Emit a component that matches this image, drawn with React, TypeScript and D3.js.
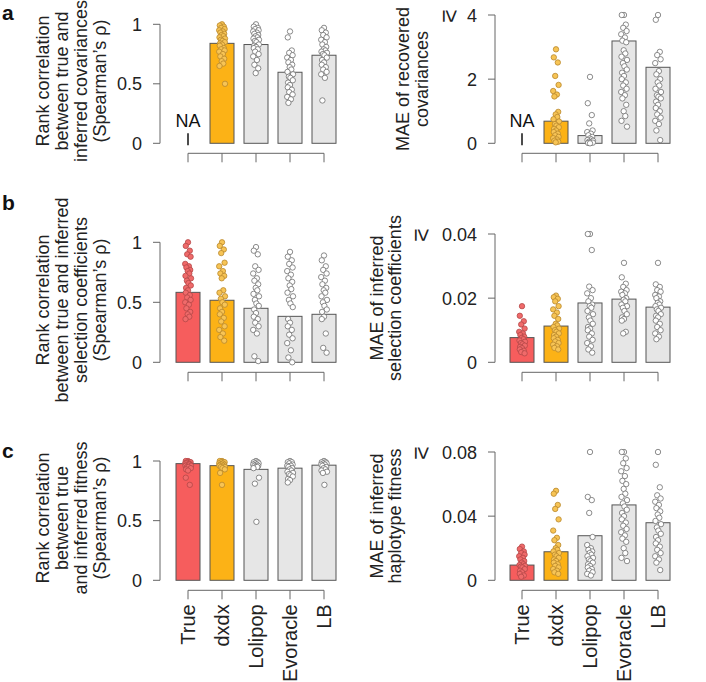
import React from 'react';
import * as d3 from 'd3';

// methods on the x axis
const methods = ['True', 'dxdx', 'Lolipop', 'Evoracle', 'LB'];

// a: covariances
const covRhoMean = [null, 0.84, 0.83, 0.597, 0.74];
const covRhoPts = [
  [],
  [1.0, 0.99, 0.98, 0.97, 0.96, 0.95, 0.94, 0.93, 0.92, 0.91, 0.9, 0.89, 0.88, 0.87, 0.86, 0.85, 0.84, 0.83, 0.82, 0.8, 0.79, 0.78, 0.77, 0.75, 0.73, 0.71, 0.69, 0.67, 0.65, 0.5],
  [1.0, 0.98, 0.97, 0.96, 0.95, 0.94, 0.93, 0.92, 0.91, 0.9, 0.89, 0.88, 0.87, 0.86, 0.85, 0.83, 0.82, 0.81, 0.8, 0.79, 0.77, 0.75, 0.73, 0.7, 0.66, 0.63, 0.59],
  [0.94, 0.89, 0.78, 0.76, 0.74, 0.72, 0.7, 0.68, 0.66, 0.64, 0.62, 0.6, 0.58, 0.56, 0.55, 0.53, 0.51, 0.49, 0.47, 0.45, 0.43, 0.41, 0.39, 0.37, 0.34],
  [0.97, 0.95, 0.93, 0.91, 0.89, 0.87, 0.85, 0.83, 0.81, 0.79, 0.78, 0.77, 0.76, 0.75, 0.74, 0.72, 0.7, 0.68, 0.66, 0.64, 0.62, 0.6, 0.58, 0.55, 0.36],
];
const covMaeMean = [null, 0.69, 0.24, 3.19, 2.37];
const covMaePts = [
  [],
  [2.93, 2.68, 2.52, 2.1, 1.82, 1.63, 1.52, 1.46, 0.98, 0.9, 0.82, 0.75, 0.68, 0.6, 0.55, 0.5, 0.45, 0.4, 0.35, 0.3, 0.25, 0.2, 0.16, 0.12, 0.08, 0.05, 0.03],
  [2.07, 1.25, 0.88, 0.62, 0.4, 0.35, 0.3, 0.25, 0.2, 0.15, 0.12, 0.1, 0.08, 0.05, 0.03, 0.02, 0.01, 0.0],
  [4.0, 4.0, 3.7, 3.6, 3.5, 3.4, 3.3, 3.2, 3.15, 2.9, 2.8, 2.7, 2.6, 2.5, 2.4, 2.3, 2.2, 2.1, 2.0, 1.9, 1.8, 1.7, 1.6, 1.5, 1.4, 1.2, 1.0, 0.85, 0.7, 0.52],
  [4.0, 3.85, 2.85, 2.75, 2.62, 2.5, 2.25, 2.15, 2.0, 1.9, 1.8, 1.7, 1.6, 1.5, 1.45, 1.4, 1.3, 1.2, 1.1, 1.0, 0.9, 0.8, 0.7, 0.6, 0.4, 0.1],
];

// b: selection coefficients
const selRhoMean = [0.583, 0.517, 0.45, 0.383, 0.4];
const selRhoPts = [
  [1.0, 0.97, 0.93, 0.9, 0.88, 0.82, 0.8, 0.79, 0.77, 0.76, 0.74, 0.72, 0.7, 0.68, 0.66, 0.64, 0.62, 0.6, 0.58, 0.56, 0.54, 0.52, 0.5, 0.48, 0.45, 0.42, 0.4, 0.38, 0.36],
  [1.0, 0.97, 0.94, 0.91, 0.83, 0.8, 0.76, 0.74, 0.72, 0.7, 0.6, 0.58, 0.55, 0.53, 0.5, 0.48, 0.45, 0.42, 0.4, 0.37, 0.34, 0.3, 0.27, 0.24, 0.21, 0.18],
  [0.96, 0.93, 0.9, 0.8, 0.77, 0.74, 0.7, 0.68, 0.65, 0.62, 0.6, 0.57, 0.55, 0.52, 0.49, 0.47, 0.44, 0.41, 0.38, 0.36, 0.33, 0.3, 0.27, 0.24, 0.05, 0.01],
  [0.92, 0.88, 0.85, 0.82, 0.79, 0.76, 0.73, 0.7, 0.67, 0.64, 0.61, 0.58, 0.55, 0.52, 0.49, 0.46, 0.36, 0.33, 0.3, 0.27, 0.23, 0.2, 0.16, 0.1, 0.04, 0.0],
  [0.89, 0.85, 0.8, 0.77, 0.74, 0.71, 0.68, 0.65, 0.62, 0.6, 0.58, 0.55, 0.52, 0.5, 0.47, 0.44, 0.42, 0.38, 0.36, 0.24, 0.12, 0.08],
];
const selMaeMean = [0.0077, 0.0113, 0.0185, 0.0197, 0.0172];
const selMaePts = [
  [0.0175, 0.0145, 0.0128, 0.0118, 0.0105, 0.0095, 0.009, 0.0085, 0.008, 0.0076, 0.0072, 0.0068, 0.0064, 0.006, 0.0056, 0.0052, 0.0048, 0.0044, 0.004, 0.0036, 0.0032, 0.0028],
  [0.0208, 0.0203, 0.0198, 0.019, 0.0175, 0.0165, 0.0155, 0.0145, 0.0135, 0.012, 0.0115, 0.011, 0.0105, 0.01, 0.0095, 0.009, 0.0085, 0.008, 0.0075, 0.007, 0.0065, 0.006, 0.0055, 0.005, 0.0045, 0.004],
  [0.04, 0.04, 0.035, 0.0236, 0.0225, 0.0215, 0.02, 0.019, 0.018, 0.0175, 0.017, 0.016, 0.015, 0.014, 0.013, 0.012, 0.011, 0.0105, 0.01, 0.009, 0.008, 0.007, 0.006, 0.005, 0.004, 0.003],
  [0.031, 0.0265, 0.0245, 0.0235, 0.0225, 0.022, 0.0215, 0.021, 0.02, 0.0195, 0.019, 0.018, 0.0175, 0.017, 0.016, 0.015, 0.014, 0.0135, 0.013, 0.0095, 0.009],
  [0.031, 0.0243, 0.0235, 0.0225, 0.022, 0.021, 0.0205, 0.02, 0.019, 0.0185, 0.018, 0.0175, 0.017, 0.0165, 0.016, 0.015, 0.0145, 0.014, 0.013, 0.012, 0.011, 0.01, 0.009, 0.008, 0.0072],
];

// c: haplotype fitness
const fitRhoMean = [0.978, 0.961, 0.93, 0.94, 0.965];
const fitRhoPts = [
  [1.0, 1.0, 0.99, 0.99, 0.99, 0.98, 0.98, 0.98, 0.97, 0.97, 0.97, 0.96, 0.96, 0.95, 0.95, 0.94, 0.93, 0.92, 0.86, 0.8],
  [1.0, 1.0, 0.99, 0.99, 0.99, 0.98, 0.98, 0.97, 0.97, 0.97, 0.96, 0.96, 0.95, 0.95, 0.94, 0.93, 0.9, 0.8],
  [1.0, 0.99, 0.99, 0.98, 0.98, 0.97, 0.97, 0.96, 0.96, 0.95, 0.95, 0.94, 0.86, 0.81, 0.49],
  [1.0, 0.99, 0.99, 0.98, 0.97, 0.96, 0.96, 0.95, 0.94, 0.93, 0.92, 0.91, 0.9, 0.89, 0.88, 0.87, 0.85, 0.84, 0.82],
  [1.0, 0.99, 0.99, 0.98, 0.98, 0.97, 0.97, 0.96, 0.95, 0.94, 0.93, 0.92, 0.91, 0.9, 0.8],
];
const fitMaeMean = [0.0095, 0.0178, 0.0278, 0.047, 0.0359];
const fitMaePts = [
  [0.021, 0.0195, 0.018, 0.017, 0.016, 0.015, 0.014, 0.013, 0.012, 0.011, 0.01, 0.0095, 0.009, 0.0085, 0.008, 0.007, 0.006, 0.005, 0.004, 0.003, 0.0022],
  [0.0558, 0.054, 0.047, 0.0445, 0.038, 0.031, 0.0265, 0.025, 0.022, 0.02, 0.019, 0.018, 0.017, 0.016, 0.015, 0.014, 0.013, 0.012, 0.011, 0.01, 0.009, 0.008, 0.007, 0.006, 0.005, 0.004],
  [0.08, 0.052, 0.05, 0.042, 0.027, 0.022, 0.02, 0.019, 0.018, 0.017, 0.016, 0.015, 0.014, 0.013, 0.012, 0.011, 0.01, 0.009, 0.008, 0.007, 0.006, 0.005, 0.004, 0.003],
  [0.08, 0.08, 0.076, 0.073, 0.07, 0.068, 0.065, 0.062, 0.06, 0.057, 0.054, 0.052, 0.05, 0.048, 0.046, 0.044, 0.042, 0.04, 0.038, 0.036, 0.034, 0.032, 0.03, 0.028, 0.026, 0.024, 0.02, 0.017, 0.014, 0.012],
  [0.08, 0.072, 0.058, 0.053, 0.051, 0.049, 0.047, 0.045, 0.043, 0.041, 0.039, 0.037, 0.035, 0.033, 0.031, 0.029, 0.027, 0.025, 0.023, 0.021, 0.019, 0.017, 0.015, 0.013, 0.011, 0.0064],
];

const barFill = ['#f65d5d', '#fcb216', '#e6e6e6', '#e6e6e6', '#e6e6e6'];
const dotFill = ['#f06a6a', '#f7c455', '#ffffff', '#ffffff', '#ffffff'];
const dotStroke = ['#b44848', '#b9882c', '#6e6e6e', '#6e6e6e', '#6e6e6e'];
const axisColor = '#666';
const textColor = '#222';
const font = '"Liberation Sans", Arial, sans-serif';
// fixed horizontal spread for the dots
const jitter = [0, -2.2, 1.8, -0.8, 2.6, -2.8, 0.9, -1.6, 2.2, -0.3, 1.3, -2.5, 3, -1.1, 0.4, 2.8, -1.9];

function Panel({ x0, x1, top, bottom, axisX, max, ticks, tickLabels, geq, means, pts, label, labelX, labelY, showNames }) {
  const x = d3.scalePoint().domain(methods).range([x0, x1]);
  const y = d3.scaleLinear().domain([0, max]).range([bottom, top]);
  const bw = 24;
  const baseY = bottom + 10;
  return (
    <g>
      {/* y label */}
      <g transform={`translate(${labelX[0]} ${labelY}) rotate(-90)`}>
        {label.map((l, i) => (
          <text key={i} x={0} y={(labelX[1] - labelX[0]) * i} textAnchor="middle" fontSize={18} fill={textColor}>{l}</text>
        ))}
      </g>
      {/* y axis */}
      <line x1={axisX} x2={axisX} y1={y(max)} y2={y(0)} stroke={axisColor} strokeWidth={1} />
      {ticks.map((t, i) => (
        <g key={i}>
          <line x1={axisX - 7} x2={axisX} y1={y(t)} y2={y(t)} stroke={axisColor} strokeWidth={1} />
          <text x={axisX - 18} y={y(t) + 6.5} textAnchor="end" fontSize={18} fill={textColor}>{tickLabels[i]}</text>
        </g>
      ))}
      {geq && (
        <text transform={`translate(${geq} ${y(max) + 1}) rotate(90)`} textAnchor="middle" fontSize={23} fill={textColor} dominantBaseline="central">≥</text>
      )}
      {/* bars */}
      {methods.map((m, i) => means[i] == null ? (
        <g key={m}>
          <text x={x(m)} y={y(0) - 16} textAnchor="middle" fontSize={18} fill="#111">NA</text>
          <line x1={x(m)} x2={x(m)} y1={y(0) - 10} y2={y(0) + 2} stroke="#111" strokeWidth={1.5} />
        </g>
      ) : (
        <rect key={m} x={x(m) - bw / 2} y={y(means[i])} width={bw} height={y(0) - y(means[i])}
          fill={barFill[i]} stroke="#555" strokeWidth={1} />
      ))}
      {/* dots */}
      {methods.map((m, i) => pts[i].map((v, j) => (
        <circle key={m + j} cx={x(m) + jitter[j % jitter.length]} cy={y(v)} r={2.7}
          fill={dotFill[i]} stroke={dotStroke[i]} strokeWidth={0.8} />
      )))}
      {/* x axis */}
      <line x1={x0} x2={x1} y1={baseY} y2={baseY} stroke={axisColor} strokeWidth={1} />
      {methods.map(m => (
        <line key={m} x1={x(m)} x2={x(m)} y1={baseY} y2={baseY + 9} stroke={axisColor} strokeWidth={1} />
      ))}
      {showNames && methods.map(m => (
        <text key={m} transform={`translate(${x(m) + 7} ${baseY + 14}) rotate(-90)`} textAnchor="end" fontSize={20} fill={textColor}>{m}</text>
      ))}
    </g>
  );
}

export default function App() {
  const L = { x0: 188, x1: 324, axisX: 160, max: 1, ticks: [0, 0.5, 1], tickLabels: ['0', '0.5', '1'], labelX: [49, 68] };
  return (
    <svg width={706} height={682} style={{ display: 'block', position: 'absolute', left: 0, top: 0, background: '#fff' }} fontFamily={font}>
      <text x={2} y={20} fontSize={21} fontWeight="bold" fill="#111">a</text>
      <text x={2} y={210} fontSize={21} fontWeight="bold" fill="#111">b</text>
      <text x={2} y={458} fontSize={21} fontWeight="bold" fill="#111">c</text>

      <Panel {...L} top={24.3} bottom={143.3} means={covRhoMean} pts={covRhoPts} labelY={81}
        label={['Rank correlation', 'between true and', 'inferred covariances', '(Spearman\u2019s \u03c1)']} />
      <Panel x0={522} x1={658} axisX={495} top={15} bottom={143.3} max={4} ticks={[0, 2, 4]} tickLabels={['0', '2', '4']} geq={451}
        means={covMaeMean} pts={covMaePts} labelX={[409, 428]} labelY={79}
        label={['MAE of recovered', 'covariances']} />

      <Panel {...L} top={242.3} bottom={362.3} means={selRhoMean} pts={selRhoPts} labelY={300}
        label={['Rank correlation', 'between true and inferred', 'selection coefficients', '(Spearman\u2019s \u03c1)']} />
      <Panel x0={522} x1={658} axisX={495} top={234} bottom={362.3} max={0.04} ticks={[0, 0.02, 0.04]} tickLabels={['0', '0.02', '0.04']} geq={423}
        means={selMaeMean} pts={selMaePts} labelX={[383, 401]} labelY={298}
        label={['MAE of inferred', 'selection coefficients']} />

      <Panel {...L} top={461} bottom={580.3} means={fitRhoMean} pts={fitRhoPts} labelY={518} showNames
        label={['Rank correlation', 'between true', 'and inferred fitness', '(Spearman\u2019s \u03c1)']} />
      <Panel x0={522} x1={658} axisX={495} top={452} bottom={580.3} max={0.08} ticks={[0, 0.04, 0.08]} tickLabels={['0', '0.04', '0.08']} geq={423}
        means={fitMaeMean} pts={fitMaePts} labelX={[383, 401]} labelY={516} showNames
        label={['MAE of inferred', 'haplotype fitness']} />
    </svg>
  );
}
